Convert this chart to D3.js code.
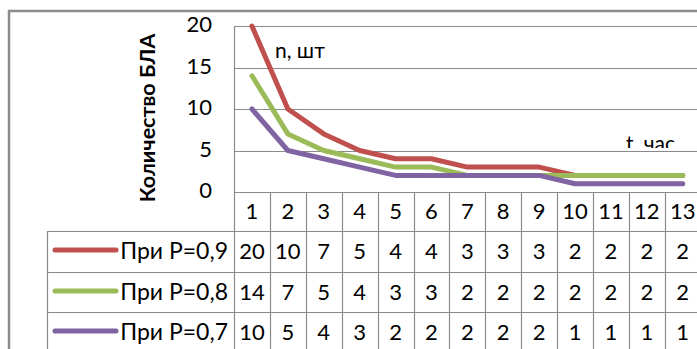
<!DOCTYPE html>
<html>
<head>
<meta charset="utf-8">
<script src="https://cdn.jsdelivr.net/npm/d3@7"></script>
<style>
  html, body { margin: 0; padding: 0; background: #fff; }
  svg { display: block; }
  text { font-family: Lato, "Open Sans", sans-serif; fill: #000; }
</style>
</head>
<body>
<svg id="chart" width="697" height="349"></svg>
<script>
// Hours (category axis) and number of UAVs for each reliability level
const hours = ["1","2","3","4","5","6","7","8","9","10","11","12","13"];
const seriesNames = ["При P=0,9", "При P=0,8", "При P=0,7"];
const valuesP09 = [20, 10, 7, 5, 4, 4, 3, 3, 3, 2, 2, 2, 2];
const valuesP08 = [14, 7, 5, 4, 3, 3, 2, 2, 2, 2, 2, 2, 2];
const valuesP07 = [10, 5, 4, 3, 2, 2, 2, 2, 2, 1, 1, 1, 1];
const yTicks = [0, 5, 10, 15, 20];
const colors = ["#C0504D", "#9BBB59", "#8064A2"];

const series = [valuesP09, valuesP08, valuesP07].map((v, i) => ({ name: seriesNames[i], values: v, color: colors[i] }));

const svg = d3.select("#chart");
const gridColor = "#8a8a8a";
const fs = 22;

const plotLeft = 234, plotTop = 26, plotBottom = 192, colW = 35.9;
const x = d3.scaleBand().domain(hours).range([plotLeft, plotLeft + colW * hours.length]);
const y = d3.scaleLinear().domain([0, 20]).range([plotBottom, plotTop]);

// outer chart frame
svg.append("path")
  .attr("d", `M9,${349 + 5} V11 H${697 + 5}`)
  .attr("fill", "none").attr("stroke", "#8c8c8c").attr("stroke-width", 2.5);

// horizontal gridlines
svg.append("g").selectAll("line").data(yTicks).join("line")
  .attr("x1", plotLeft).attr("x2", 700)
  .attr("y1", d => Math.round(y(d)) + 0.5).attr("y2", d => Math.round(y(d)) + 0.5)
  .attr("stroke", gridColor).attr("stroke-width", 1.2);

// plot area left edge
svg.append("line")
  .attr("x1", plotLeft + 0.5).attr("x2", plotLeft + 0.5)
  .attr("y1", plotTop).attr("y2", 349)
  .attr("stroke", gridColor).attr("stroke-width", 1.2);

// y tick labels
svg.append("g").selectAll("text").data(yTicks).join("text")
  .attr("x", 212).attr("y", d => y(d) + 6)
  .attr("text-anchor", "end")
  .style("font-size", fs + "px")
  .text(d => d);

// y axis title
svg.append("text")
  .attr("transform", "translate(155,118) rotate(-90)")
  .attr("text-anchor", "middle")
  .style("font-size", "21.5px").style("font-weight", "bold")
  .text("Количество БЛА");

// unit annotations
svg.append("text").attr("x", 275).attr("y", 58)
  .style("font-size", "21px").text("n, шт");

svg.append("clipPath").attr("id", "tclip")
  .append("rect").attr("x", 600).attr("y", 120).attr("width", 97).attr("height", 28);
svg.append("text").attr("x", 626).attr("y", 151)
  .attr("clip-path", "url(#tclip)")
  .style("font-size", "21px").text("t, час");

// data table grid
const rowTop = [plotBottom, 231, 272, 312, 352];
const tableRight = 700;
const tg = svg.append("g").attr("stroke", gridColor).attr("stroke-width", 1.2);
// column separators
hours.forEach((h, i) => {
  const cx = Math.round(x(h) + x.bandwidth()) + 0.5;
  tg.append("line").attr("x1", cx).attr("x2", cx).attr("y1", plotBottom).attr("y2", 349);
});
// row separators
rowTop.slice(1, 4).forEach(r => {
  tg.append("line").attr("x1", 47).attr("x2", tableRight).attr("y1", r + 0.5).attr("y2", r + 0.5);
});
tg.append("line").attr("x1", 47.5).attr("x2", 47.5).attr("y1", 231).attr("y2", 349);

// header row: hour numbers
svg.append("g").selectAll("text").data(hours).join("text")
  .attr("x", d => x(d) + x.bandwidth() / 2).attr("y", 219)
  .attr("text-anchor", "middle").style("font-size", fs + "px")
  .text(d => d);

// series rows: legend key + values
series.forEach((s, i) => {
  const base = rowTop[i + 1];
  const cy = base + 19;
  svg.append("line")
    .attr("x1", 55).attr("x2", 116).attr("y1", cy).attr("y2", cy)
    .attr("stroke", s.color).attr("stroke-width", 5).attr("stroke-linecap", "round");
  svg.append("text").attr("x", 228).attr("y", base + 28)
    .attr("text-anchor", "end").style("font-size", "23px").text(s.name);
  svg.append("g").selectAll("text").data(s.values).join("text")
    .attr("x", (d, j) => x(hours[j]) + x.bandwidth() / 2).attr("y", base + 28)
    .attr("text-anchor", "middle").style("font-size", fs + "px")
    .text(d => d);
});

// series lines
const line = d3.line()
  .x((d, j) => x(hours[j]) + x.bandwidth() / 2)
  .y(d => y(d));
svg.append("g").selectAll("path").data(series).join("path")
  .attr("d", d => line(d.values))
  .attr("fill", "none")
  .attr("stroke", d => d.color)
  .attr("stroke-width", 5)
  .attr("stroke-linejoin", "round")
  .attr("stroke-linecap", "round");
</script>
</body>
</html>
